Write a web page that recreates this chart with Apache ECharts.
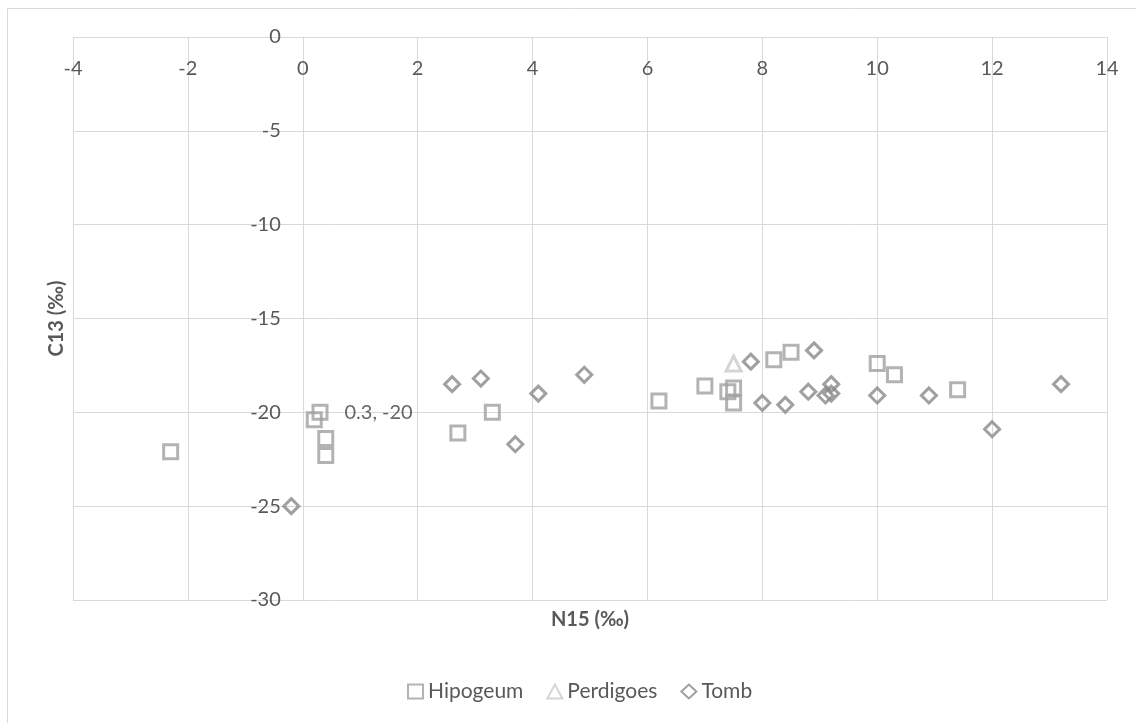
<!DOCTYPE html>
<html>
<head>
<meta charset="utf-8">
<script src="https://cdn.jsdelivr.net/npm/echarts@6/dist/echarts.min.js"></script>
<style>
html,body{margin:0;padding:0;background:#fff;}
#chart{width:1136px;height:723px;}
</style>
</head>
<body>
<div id="chart"></div>
<script>
// Data (N15, C13)
const hipogeum = [
  [-2.3, -22.1], [0.3, -20.0], [0.2, -20.4], [0.4, -21.4], [0.4, -22.3],
  [2.7, -21.1], [3.3, -20.0], [6.2, -19.4], [7.0, -18.6], [7.4, -18.9],
  [7.5, -18.7], [7.5, -19.5], [8.2, -17.2], [8.5, -16.8], [10.0, -17.4],
  [10.3, -18.0], [11.4, -18.8]
];
const perdigoes = [
  [7.5, -17.4]
];
const tomb = [
  [-0.2, -25.0], [2.6, -18.5], [3.1, -18.2], [3.7, -21.7], [4.1, -19.0],
  [4.9, -18.0], [7.8, -17.3], [8.9, -16.7], [8.0, -19.5], [8.4, -19.6],
  [8.8, -18.9], [9.1, -19.1], [9.2, -18.5], [9.2, -19.0], [10.0, -19.1],
  [10.9, -19.1], [12.0, -20.9], [13.2, -18.5]
];
const labelledPoint = [0.3, -20.0];
const seriesNames = ['Hipogeum', 'Perdigoes', 'Tomb'];
const xName = 'N15 (‰)';
const yName = 'C13 (‰)';
const xMin = -4, xMax = 14, xStep = 2;
const yMin = -30, yMax = 0, yStep = 5;

const W = 1136, H = 723;
const grid = {left: 73, right: 29, top: 37, bottom: 123};
const plotW = W - grid.left - grid.right;
const plotH = H - grid.top - grid.bottom;
const plotCx = grid.left + plotW / 2;
const plotCy = grid.top + plotH / 2;
// y axis crosses x = 0
const yAxisOffset = -((0 - xMin) / (xMax - xMin)) * plotW;

const font = 'Lato, Calibri, "Open Sans", sans-serif';
const gridColor = '#D9D9D9';
const textColor = '#595959';
const fs = 20;

const chart = echarts.init(document.getElementById('chart'), null, {renderer: 'canvas'});

const hipData = hipogeum.map(p => {
  const isLab = p[0] === labelledPoint[0] && p[1] === labelledPoint[1];
  return isLab ? {
    value: p,
    label: {
      show: true, position: 'right', distance: 16,
      formatter: p[0] + ', ' + p[1],
      color: '#404040', fontSize: fs, fontFamily: font
    }
  } : {value: p};
});

chart.setOption({
  animation: false,
  backgroundColor: '#fff',
  textStyle: {fontFamily: font},
  grid: grid,
  legend: {
    top: 676,
    left: 402,
    itemGap: 23,
    itemWidth: 15,
    itemHeight: 14,
    textStyle: {color: textColor, fontSize: 21, fontFamily: font},
    data: seriesNames
  },
  xAxis: {
    type: 'value', min: xMin, max: xMax, interval: xStep,
    position: 'top',
    axisLine: {show: true, onZero: false, lineStyle: {color: gridColor, width: 1}},
    axisTick: {show: false},
    axisLabel: {inside: true, color: textColor, fontSize: fs, fontFamily: font, margin: 22},
    splitLine: {show: true, lineStyle: {color: gridColor, width: 1}}
  },
  yAxis: {
    type: 'value', min: yMin, max: yMax, interval: yStep,
    position: 'left',
    offset: yAxisOffset,
    axisLine: {show: true, onZero: false, lineStyle: {color: gridColor, width: 1}},
    axisTick: {show: false},
    axisLabel: {color: textColor, fontSize: fs, fontFamily: font, margin: 22},
    splitLine: {show: true, lineStyle: {color: gridColor, width: 1}}
  },
  graphic: [
    {
      type: 'rect', silent: true, z: -10,
      shape: {x: 7.5, y: 8.5, width: 1200, height: 800},
      style: {fill: 'none', stroke: '#D9D9D9', lineWidth: 1}
    },
    {
      type: 'text', x: plotCx, y: 620,
      style: {text: xName, fill: textColor, font: 'bold ' + fs + 'px ' + font, align: 'center', verticalAlign: 'middle'}
    },
    {
      type: 'text', x: 57, y: plotCy, rotation: Math.PI / 2,
      style: {text: yName, fill: textColor, font: 'bold ' + fs + 'px ' + font, align: 'center', verticalAlign: 'middle'}
    }
  ],
  series: [
    {
      name: seriesNames[0], type: 'scatter', data: hipData,
      symbol: 'rect', symbolSize: 14, z: 3,
      itemStyle: {color: 'rgba(255,255,255,0)', borderColor: '#A0A0A0', borderWidth: 3}
    },
    {
      name: seriesNames[1], type: 'scatter', data: perdigoes,
      symbol: 'triangle', symbolSize: 15, z: 4,
      itemStyle: {color: 'rgba(255,255,255,0)', borderColor: '#CACACA', borderWidth: 3}
    },
    {
      name: seriesNames[2], type: 'scatter', data: tomb,
      symbol: 'diamond', symbolSize: 15, z: 5,
      itemStyle: {color: 'rgba(255,255,255,0)', borderColor: '#888888', borderWidth: 3}
    }
  ]
});
</script>
</body>
</html>
